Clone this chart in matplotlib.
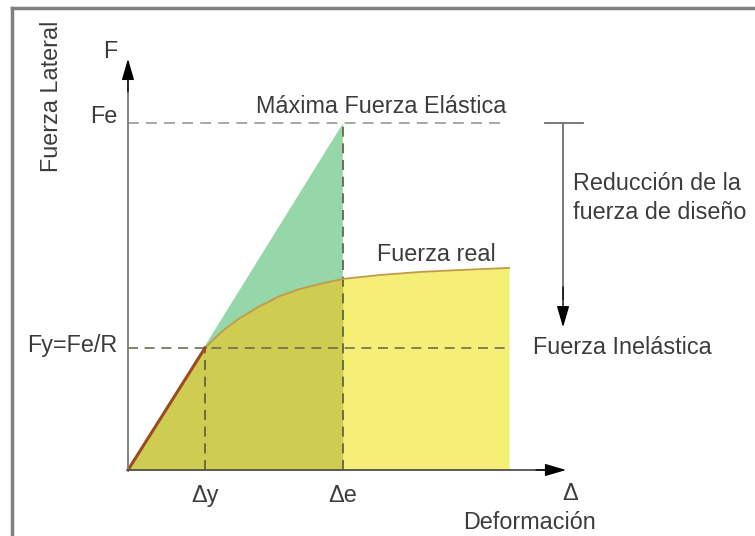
import matplotlib.pyplot as plt
from matplotlib.patches import Polygon

plt.rcParams['font.family'] = ['Liberation Sans', 'DejaVu Sans']

# deformation / force points (units: Δy = 1, Fy = 1)
dy = 1.0
de = 2.79
fy = 1.0
fe = 2.84
x_end = 4.95

# real force curve (inelastic)
curve_x = [0.0, 1.0, 1.13, 1.26, 1.455, 1.714, 1.974, 2.234, 2.494, 2.79,
           3.27, 3.79, 4.31, 4.95]
curve_y = [0.0, 1.0, 1.082, 1.156, 1.246, 1.344, 1.426, 1.484, 1.525, 1.566,
           1.598, 1.623, 1.639, 1.656]

fig = plt.figure(figsize=(7.55, 5.36), dpi=100)
ax = fig.add_axes([0, 0, 1, 1])
ax.set_xlim(-1.662, 8.143)
ax.set_ylim(-0.541, 3.852)
ax.axis('off')

txt = '#3c3c3c'

# yellow area under the real curve
ax.fill_between(curve_x, curve_y, 0, color='#f5ef78', lw=0, zorder=1)
# elastic triangle (green)
tri = Polygon([(0, 0), (de, fe), (de, 0)], closed=True, facecolor='#96d7aa',
              lw=0, zorder=2)
ax.add_patch(tri)
# olive part: under the curve, left of Δe
n = curve_x.index(de) + 1
ax.fill_between(curve_x[:n], curve_y[:n], 0, color='#cfcc52', lw=0, zorder=2.5)

# curve lines
ax.plot(curve_x[1:], curve_y[1:], color='#c39a45', lw=1.3, zorder=4)
ax.plot([0, dy], [0, fy], color='#9b4a22', lw=2.2, zorder=4)

# dashed guides
dash = (0, (6, 4))
ax.plot([0, 4.85], [fe, fe], color='#a0a0a0', lw=1.3, ls=dash, zorder=3)
ax.plot([0, x_end], [fy, fy], color='#6e6e50', lw=1.2, ls=dash, zorder=3)
ax.plot([dy, dy], [0, fy], color='#5a5a3a', lw=1.2, ls=dash, zorder=3)
ax.plot([de, de], [0, fe], color='#5a5a3a', lw=1.2, ls=dash, zorder=3)

head = dict(arrowstyle='-|>,head_length=1.3,head_width=0.38', color='black',
            lw=1.0, shrinkA=0, shrinkB=0)

# axes: grey shafts, black heads
ax.plot([0, 0], [0, 3.2], color='#7a7a7a', lw=1.3, zorder=5)
ax.annotate('', xy=(0, 3.37), xytext=(0, 3.1), arrowprops=head, zorder=6)
ax.plot([0, 5.4], [0, 0], color='#505050', lw=1.3, zorder=5)
ax.annotate('', xy=(5.69, 0), xytext=(5.3, 0), arrowprops=head, zorder=6)

# design force reduction arrow
ax.plot([5.42, 5.91], [fe, fe], color='#707070', lw=1.3)
ax.plot([5.65, 5.65], [fe, 1.4], color='#707070', lw=1.3)
ax.annotate('', xy=(5.65, 1.17), xytext=(5.65, 1.5), arrowprops=head)

# frame (top and left only visible)
ax.plot([-1.505, 8.2], [3.786, 3.786], color='#808080', lw=2.5, clip_on=False)
ax.plot([-1.505, -1.505], [3.786, -0.6], color='#808080', lw=2.5, clip_on=False)

fs = 16.8
ax.text(-0.23, 3.43, 'F', fontsize=fs, color=txt, ha='center', va='center')
ax.text(-0.14, fe + 0.06, 'Fe', fontsize=fs, color=txt, ha='right', va='center')
ax.text(-0.14, fy + 0.02, 'Fy=Fe/R', fontsize=fs, color=txt, ha='right', va='center')
ax.text(-0.99, 3.06, 'Fuerza Lateral', fontsize=fs, color=txt, rotation=90,
        ha='center', va='center')
ax.text(dy, -0.205, 'Δy', fontsize=fs, color=txt, ha='center', va='center')
ax.text(de, -0.205, 'Δe', fontsize=fs, color=txt, ha='center', va='center')
ax.text(5.74, -0.19, 'Δ', fontsize=fs, color=txt, ha='center', va='center')
ax.text(5.22, -0.43, 'Deformación', fontsize=fs, color=txt, ha='center', va='center')
ax.text(3.29, fe + 0.14, 'Máxima Fuerza Elástica', fontsize=fs, color=txt,
        ha='center', va='center')
ax.text(5.78, 2.23, 'Reducción de la\nfuerza de diseño', fontsize=fs, color=txt,
        ha='left', va='center', linespacing=1.35)
ax.text(3.24, 1.77, 'Fuerza real', fontsize=fs, color=txt, ha='left', va='center')
ax.text(5.26, fy, 'Fuerza Inelástica', fontsize=fs, color=txt, ha='left', va='center')

fig.savefig('out.png', dpi=100)
